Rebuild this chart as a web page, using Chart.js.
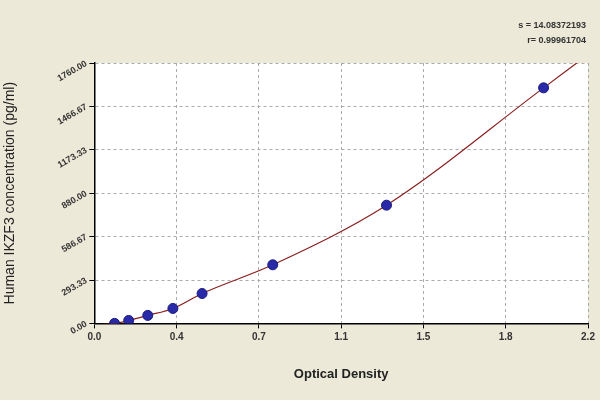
<!DOCTYPE html>
<html><head><meta charset="utf-8">
<script src="https://cdn.jsdelivr.net/npm/chart.js@4"></script>
<style>body{margin:0;background:#ece9d8}#wrap{width:600px;height:400px}</style>
</head><body><div id="wrap"><canvas id="c"></canvas></div>
<script>
// standards
var odValues = [0.09, 0.153, 0.238, 0.35, 0.48, 0.795, 1.302, 2.002];
var concValues = [0, 20, 54, 101, 202, 396, 799, 1592];
// fitted curve end
var curveEndX = [0.0, 2.15];
var curveEndY = [-10, 1760];
var yTicks = [0, 293.33, 586.67, 880, 1173.33, 1466.67, 1760];
var yLabels = ['0.00', '293.33', '586.67', '880.00', '1173.33', '1466.67', '1760.00'];
var xTicks = [0, 0.3667, 0.7333, 1.1, 1.4667, 1.8333, 2.2];
var xLabels = ['0.0', '0.4', '0.7', '1.1', '1.5', '1.8', '2.2'];

var pts = odValues.map(function (x, i) { return {x: x, y: concValues[i]}; });
var curve = [{x: curveEndX[0], y: curveEndY[0]}].concat(pts).concat([{x: curveEndX[1], y: curveEndY[1]}]);

var bgPlugin = {
  id: 'bg',
  beforeDraw: function (chart) {
    var a = chart.chartArea, ctx = chart.ctx;
    ctx.save();
    ctx.fillStyle = '#ffffff';
    ctx.fillRect(a.left, a.top, a.right - a.left, a.bottom - a.top);
    ctx.restore();
  },
  afterDraw: function (chart) {
    var ctx = chart.ctx;
    ctx.save();
    ctx.font = 'bold 9px "Liberation Sans"';
    ctx.fillStyle = '#333';
    ctx.textAlign = 'right';
    ctx.fillText('s = 14.08372193', 586, 28);
    ctx.fillText('r= 0.99961704', 586, 43);
    ctx.restore();
  }
};

new Chart(document.getElementById('c'), {
  type: 'scatter',
  data: {
    datasets: [
      {data: pts, backgroundColor: '#2a2aa8', borderColor: '#1a1a80', pointRadius: 5, showLine: false, order: 1},
      {data: curve, showLine: true, borderColor: '#8b2020', borderWidth: 1.2, pointRadius: 0, cubicInterpolationMode: 'monotone', order: 2}
    ]
  },
  options: {
    responsive: true, maintainAspectRatio: false, animation: false,
    layout: {padding: {top: 63, right: 12, left: 0, bottom: 14}},
    plugins: {legend: {display: false}, tooltip: {enabled: false}},
    scales: {
      x: {
        type: 'linear', min: 0, max: 2.2,
        afterBuildTicks: function (s) { s.ticks = xTicks.map(function (v) { return {value: v}; }); },
        ticks: {autoSkip: false, maxRotation: 0, color: '#333', font: {family: 'Liberation Sans', size: 10, weight: 'bold'},
          callback: function (v, i) { return xLabels[i]; }},
        grid: {color: '#aaa', lineWidth: 1, drawTicks: true, tickColor: '#000', tickLength: 5},
        border: {color: '#000', width: 1.5, dash: [3, 3]},
        title: {display: true, text: 'Optical Density', color: '#222', font: {family: 'Liberation Sans', size: 13, weight: 'bold'}, padding: {top: 20}}
      },
      y: {
        type: 'linear', min: 0, max: 1760,
        afterBuildTicks: function (s) { s.ticks = yTicks.map(function (v) { return {value: v}; }); },
        ticks: {autoSkip: false, maxRotation: 30, minRotation: 30, color: '#333', font: {family: 'Liberation Sans', size: 9, weight: 'bold'},
          callback: function (v, i) { return yLabels[i]; }},
        grid: {color: '#aaa', lineWidth: 1, tickColor: '#000', tickLength: 5},
        border: {color: '#000', width: 1.5, dash: [3, 3]},
        title: {display: true, text: 'Human IKZF3 concentration (pg/ml)', color: '#222', font: {family: 'Liberation Sans', size: 14}, padding: {top: 2, bottom: 31}}
      }
    }
  },
  plugins: [bgPlugin]
});
</script></body></html>
